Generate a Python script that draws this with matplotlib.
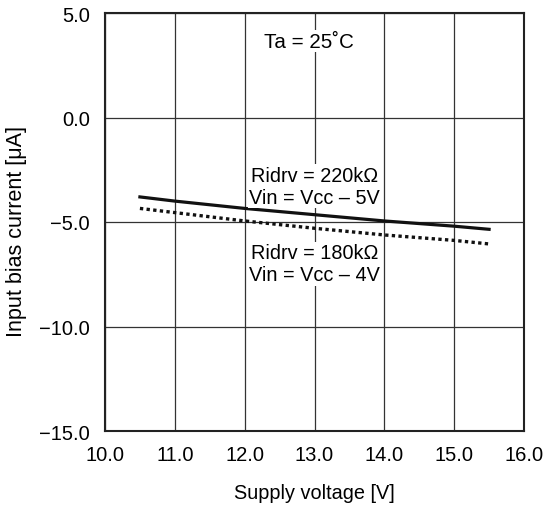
import matplotlib
matplotlib.use("Agg")
import matplotlib.pyplot as plt

plt.rcParams['font.family'] = ['Liberation Sans', 'DejaVu Sans']

supply_v = [10.5, 11.0, 12.0, 13.0, 14.0, 15.0, 15.5]
bias_220k = [-3.8, -4.0, -4.35, -4.65, -4.95, -5.2, -5.35]
bias_180k = [-4.35, -4.55, -4.95, -5.3, -5.62, -5.88, -6.05]
x_ticks = [10.0, 11.0, 12.0, 13.0, 14.0, 15.0, 16.0]
y_ticks = [-15.0, -10.0, -5.0, 0.0, 5.0]
x_labels = ["10.0", "11.0", "12.0", "13.0", "14.0", "15.0", "16.0"]
y_labels = ["\u221215.0", "\u221210.0", "\u22125.0", "0.0", "5.0"]

fig = plt.figure(figsize=(5.44, 5.06), dpi=100)
ax = fig.add_axes([105/544, 1-432/506, (524-105)/544, (432-14)/506])

ax.set_xlim(10, 16)
ax.set_ylim(-15, 5)
ax.set_xticks(x_ticks)
ax.set_xticklabels(x_labels)
ax.set_yticks(y_ticks)
ax.set_yticklabels(y_labels)
ax.tick_params(direction='in', length=0, labelsize=14.5, pad=10)
ax.tick_params(axis='y', pad=11)
ax.grid(True, color='#333333', linewidth=0.9)
for s in ax.spines.values():
    s.set_linewidth(1.5)
    s.set_color('#222222')

ax.plot(supply_v, bias_220k, color='#111111', linewidth=2.3, zorder=3)
ax.plot(supply_v, bias_180k, color='#111111', linewidth=2.4, linestyle=(0, (1, 1)), zorder=3)

bbox = dict(facecolor='white', edgecolor='none', pad=1)
ax.text(12.92, 3.65, "Ta = 25\u02daC", ha='center', va='center', fontsize=14.8, bbox=bbox, zorder=4)
ax.text(13.0, -3.29, "Ridrv = 220k\u03a9\nVin = Vcc \u2013 5V", ha='center', va='center',
        fontsize=14.3, linespacing=1.22, bbox=bbox, zorder=4)
ax.text(13.0, -7.0, "Ridrv = 180k\u03a9\nVin = Vcc \u2013 4V", ha='center', va='center',
        fontsize=14.3, linespacing=1.22, bbox=bbox, zorder=4)

ax.set_xlabel("Supply voltage [V]", fontsize=14.3, labelpad=14)
ax.set_ylabel("Input bias current [\u03bcA]", fontsize=15.5)
ax.yaxis.set_label_coords(-0.185, 0.48)

fig.savefig("out.png", dpi=100)
